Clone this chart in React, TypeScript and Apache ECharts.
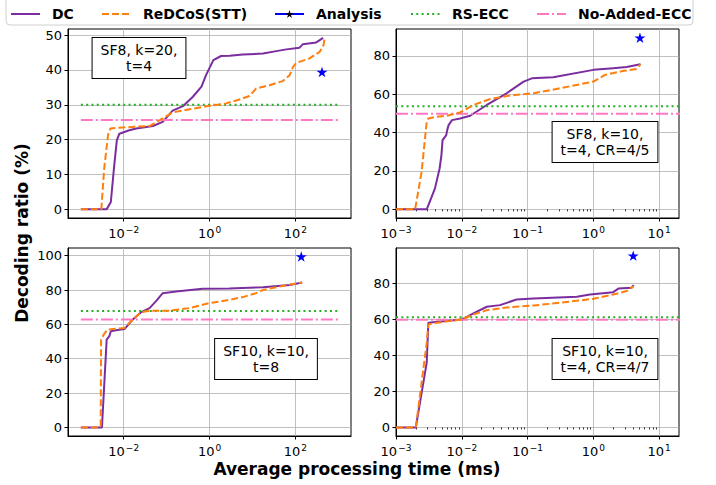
import React, { useEffect, useRef } from 'react';
import * as echarts from 'echarts';

const FONT = 'DejaVu Sans';

// ---------- data ----------
const panelLabels = ['SF8, k=20,\nt=4', 'SF8, k=10,\nt=4, CR=4/5', 'SF10, k=10,\nt=8', 'SF10, k=10,\nt=4, CR=4/7'];

// top-left: SF8, k=20, t=4
const tlDcTime = [0.001, 0.004, 0.005, 0.006, 0.0069, 0.0079, 0.0135, 0.0195, 0.048, 0.081, 0.138, 0.24, 0.41, 0.65, 0.83, 1.23, 1.86, 2.95, 6.0, 17.8, 36, 62, 126, 151, 309, 447];
const tlDcRatio = [0, 0, 2.1, 12.6, 19.8, 21.7, 22.7, 23.2, 23.9, 25.1, 28.3, 29.6, 32.3, 35.2, 38.5, 42.8, 44.0, 44.1, 44.4, 44.7, 45.4, 45.9, 46.4, 47.4, 47.9, 49.2];
const tlReTime = [0.001, 0.003, 0.0035, 0.0043, 0.0049, 0.0095, 0.04, 0.081, 0.138, 0.34, 1.0, 2.45, 5.0, 8.5, 12.3, 25, 51, 74, 89, 105, 214, 372, 457, 480];
const tlReRatio = [0, 0, 11.7, 21.3, 23.2, 23.5, 23.9, 26.1, 27.8, 28.7, 29.7, 30.4, 31.5, 32.5, 34.7, 35.6, 36.8, 38.5, 40.9, 42.0, 43.3, 45.2, 47.1, 48.9];

// top-right: SF8, k=10, t=4, CR=4/5
const trDcTime = [0.001, 0.00293, 0.0039, 0.0046, 0.0049, 0.0051, 0.0058, 0.006, 0.0063, 0.0071, 0.0094, 0.0134, 0.024, 0.048, 0.087, 0.116, 0.245, 1.0, 2.0, 3.2, 5.2];
const trDcRatio = [0, 0, 10.8, 21.3, 28.2, 36.1, 38.7, 41.3, 43.9, 46.5, 47.4, 48.8, 54.4, 60.5, 66.6, 68.3, 68.8, 72.7, 73.6, 74.2, 75.6];
const trReTime = [0.001, 0.00195, 0.00245, 0.00293, 0.0031, 0.0042, 0.0059, 0.0094, 0.015, 0.027, 0.054, 0.123, 0.31, 1.0, 1.5, 2.9, 4.5, 5.2];
const trReRatio = [0, 0, 19.5, 45.7, 47.4, 48.3, 48.8, 50.5, 54.4, 57.5, 59.3, 60.5, 63.1, 66.6, 70.1, 72.2, 73.2, 75.6];

// bottom-left: SF10, k=10, t=8
const blDcTime = [0.001, 0.0031, 0.004, 0.0046, 0.005, 0.0066, 0.0104, 0.016, 0.025, 0.04, 0.056, 0.081, 0.166, 0.69, 2.9, 17.7, 74, 145];
const blDcRatio = [0, 0, 51.2, 53.1, 56.0, 56.6, 57.3, 62.7, 67.0, 69.5, 73.4, 78.2, 79.2, 80.7, 80.9, 81.7, 83, 84.4];
const blReTime = [0.001, 0.0027, 0.0029, 0.00296, 0.0034, 0.0042, 0.0104, 0.016, 0.025, 0.04, 0.117, 0.34, 1, 2.9, 6, 12.3, 17.8, 51, 145];
const blReRatio = [0, 0, 1, 51, 54, 57, 57.9, 62.7, 67, 68, 68, 69.5, 72.4, 74.3, 75.9, 78.2, 80.1, 82.4, 84.4];

// bottom-right: SF10, k=10, t=4, CR=4/7
const brDcTime = [0.001, 0.002, 0.00293, 0.0031, 0.0052, 0.01, 0.015, 0.024, 0.038, 0.068, 0.123, 0.56, 0.89, 2.0, 2.4, 3.8, 4.1];
const brDcRatio = [0, 0, 36, 58.2, 59.1, 60.0, 63.4, 67.1, 68, 71.1, 71.7, 72.6, 73.9, 75.2, 77.2, 77.6, 79.1];
const brReTime = [0.001, 0.002, 0.00293, 0.0031, 0.0042, 0.01, 0.015, 0.024, 0.054, 0.123, 0.31, 1.0, 2.0, 3.2, 4.1];
const brReRatio = [0, 0, 47, 57.3, 58.2, 60, 62.8, 65.2, 66.9, 67.8, 69.3, 71.5, 73.9, 75.8, 78.5];

// per-panel single values
const analysisTime = [420, 5.1, 138, 4.03];
const analysisRatio = [39.4, 89.4, 99.5, 95.5];
const rsEccRatio = [30, 53.7, 67.8, 61.3];
const noAddedRatio = [25.6, 49.8, 62.9, 59.8];
const refLineSpan = [0.001, 1000];

// tick values
const wideXTicks = [1e-2, 1, 1e2];
const narrowXTicks = [1e-3, 1e-2, 1e-1, 1, 10];
const tlYTicks = [0, 10, 20, 30, 40, 50];
const trYTicks = [0, 20, 40, 60, 80];
const blYTicks = [0, 20, 40, 60, 80, 100];
const brYTicks = [0, 20, 40, 60, 80];

const legendNames = ['DC', 'ReDCoS(STT)', 'Analysis', 'RS-ECC', 'No-Added-ECC'];

// ---------- styling / layout ----------
const COLORS = {
  dc: '#7b2d9f',
  re: '#ff7f0e',
  an: '#0000ff',
  rs: '#22b022',
  na: '#ff78c4',
};
const STAR = 'path://M50 0L61.2 34.6L97.6 34.5L68.1 55.9L79.4 90.5L50 69L20.6 90.5L31.9 55.9L2.4 34.5L38.8 34.6Z';

const zip = (xs: number[], ys: number[]) => xs.map((x, i) => [x, ys[i]]);

const minorDecades = [1e-3, 1e-2, 1e-1, 1];
const minorTicks: number[] = [];
minorDecades.forEach((d) => {
  for (let m = 2; m <= 9; m++) minorTicks.push(parseFloat((m * d).toPrecision(6)));
});

const panels = [
  { grid: { left: 68, top: 29, width: 283, height: 189 }, xMin: Math.pow(10, -3.3), xMax: Math.pow(10, 3.3), yMin: -2.5, yMax: 51.75, xTicks: wideXTicks, yTicks: tlYTicks, minor: false, dc: zip(tlDcTime, tlDcRatio), re: zip(tlReTime, tlReRatio), box: [139, 58] },
  { grid: { left: 396, top: 29, width: 283, height: 189 }, xMin: 1e-3, xMax: 20, yMin: -4.5, yMax: 94, xTicks: narrowXTicks, yTicks: trYTicks, minor: true, dc: zip(trDcTime, trDcRatio), re: zip(trReTime, trReRatio), box: [605, 142] },
  { grid: { left: 68, top: 248, width: 283, height: 188 }, xMin: Math.pow(10, -3.3), xMax: Math.pow(10, 3.3), yMin: -5, yMax: 104.5, xTicks: wideXTicks, yTicks: blYTicks, minor: false, dc: zip(blDcTime, blDcRatio), re: zip(blReTime, blReRatio), box: [266, 359] },
  { grid: { left: 396, top: 248, width: 283, height: 188 }, xMin: 1e-3, xMax: 20, yMin: -4.75, yMax: 99.75, xTicks: narrowXTicks, yTicks: brYTicks, minor: true, dc: zip(brDcTime, brDcRatio), re: zip(brReTime, brReRatio), box: [605, 359] },
];

const supLabel = (v: number) => {
  const l = Math.log10(v);
  const e = Math.round(l);
  if (Math.abs(l - e) > 1e-6) return '';
  return `{b|10}{s|${e < 0 ? '\u2212' + -e : e}}`;
};

const gridLine = { color: '#b0b0b0', width: 0.8 };

function buildOption() {
  const grid: any[] = [];
  const xAxis: any[] = [];
  const yAxis: any[] = [];
  const series: any[] = [];
  panels.forEach((p, i) => {
    grid.push({ ...p.grid, show: true, borderColor: '#000', borderWidth: 1, backgroundColor: 'transparent', containLabel: false });
    xAxis.push({
      type: 'log', logBase: 10, gridIndex: i, min: p.xMin, max: p.xMax,
      axisLine: { show: true, onZero: false, lineStyle: { color: '#000', width: 1 } },
      axisTick: { show: true, length: 3.5, customValues: p.xTicks, lineStyle: { color: '#000', width: 1 } },
      axisLabel: {
        customValues: p.xTicks, formatter: supLabel, margin: 7, color: '#000', fontFamily: FONT, fontSize: 13,
        rich: {
          b: { fontFamily: FONT, fontSize: 13, color: '#000', verticalAlign: 'bottom' },
          s: { fontFamily: FONT, fontSize: 9, color: '#000', verticalAlign: 'top', padding: [0, 0, 6, 1] },
        },
      },
      splitLine: { show: true, lineStyle: gridLine },
    });
    yAxis.push({
      type: 'value', gridIndex: i, min: p.yMin, max: p.yMax,
      axisLine: { show: true, onZero: false, lineStyle: { color: '#000', width: 1 } },
      axisTick: { show: true, length: 3.5, customValues: p.yTicks, lineStyle: { color: '#000', width: 1 } },
      axisLabel: { customValues: p.yTicks, margin: 6, color: '#000', fontFamily: FONT, fontSize: 13 },
      splitLine: { show: true, lineStyle: gridLine },
    });
    const ax = { xAxisIndex: i, yAxisIndex: i };
    series.push({ type: 'line', name: 'DC', ...ax, data: p.dc, symbol: 'none', color: COLORS.dc, lineStyle: { color: COLORS.dc, width: 2 }, z: 3 });
    series.push({ type: 'line', name: 'ReDCoS(STT)', ...ax, data: p.re, symbol: 'none', color: COLORS.re, lineStyle: { color: COLORS.re, width: 2, type: [7, 3] }, z: 4 });
    series.push({ type: 'line', name: 'Analysis', ...ax, data: [[analysisTime[i], analysisRatio[i]]], symbol: STAR, symbolSize: 11, symbolKeepAspect: true, color: COLORS.an, itemStyle: { color: COLORS.an }, lineStyle: { color: COLORS.an, width: 2 }, z: 5 });
    series.push({ type: 'line', name: 'RS-ECC', ...ax, data: refLineSpan.map((x) => [x, rsEccRatio[i]]), symbol: 'none', color: COLORS.rs, lineStyle: { color: COLORS.rs, width: 2, type: [2, 3.3] }, z: 3 });
    series.push({ type: 'line', name: 'No-Added-ECC', ...ax, data: refLineSpan.map((x) => [x, noAddedRatio[i]]), symbol: 'none', color: COLORS.na, lineStyle: { color: COLORS.na, width: 2, type: [12, 3, 2, 3] }, z: 3 });
  });
  // minor ticks for the narrow-range panels
  panels.forEach((p, i) => {
    if (!p.minor) return;
    xAxis.push({
      type: 'log', logBase: 10, gridIndex: i, min: p.xMin, max: p.xMax, position: 'bottom',
      axisLine: { show: false },
      axisTick: { show: true, length: 2, customValues: minorTicks, lineStyle: { color: '#000', width: 0.8 } },
      axisLabel: { show: false },
      splitLine: { show: false },
    });
  });

  const legendLeft = [10, 101, 274, 410, 536];
  const legend = legendNames.map((name, k) => ({
    data: [name], left: legendLeft[k], top: 7, padding: 0, itemWidth: 29, itemHeight: 10, selectedMode: false,
    textStyle: { fontFamily: FONT, fontSize: 14, fontWeight: 'bold', color: '#000', padding: [0, 0, 0, 7] },
    itemStyle: name === 'Analysis' ? undefined : { opacity: 0 },
  }));

  const graphic: any[] = [
    { type: 'rect', shape: { x: 6, y: -5, width: 687, height: 30, r: 4 }, style: { fill: '#fff', stroke: '#d0d0d0', lineWidth: 1 }, z: -10 },
    { type: 'text', x: 22, y: 233, rotation: Math.PI / 2, style: { text: 'Decoding ratio (%)', font: `bold 17px "${FONT}"`, fill: '#000', align: 'center', verticalAlign: 'middle' } },
    { type: 'text', x: 357, y: 469, style: { text: 'Average processing time (ms)', font: `bold 17px "${FONT}"`, fill: '#000', align: 'center', verticalAlign: 'middle' } },
  ];
  panels.forEach((p, i) => {
    graphic.push({
      type: 'text', x: p.box[0], y: p.box[1], z: 50,
      style: {
        text: panelLabels[i], font: `14px "${FONT}"`, fill: '#000', align: 'center', verticalAlign: 'middle',
        lineHeight: 16, backgroundColor: '#fff', borderColor: '#000', borderWidth: 1, padding: [4, 8],
      },
    });
  });

  return { animation: false, backgroundColor: '#fff', grid, xAxis, yAxis, series, legend, graphic };
}

export default function App() {
  const ref = useRef<HTMLDivElement>(null);
  useEffect(() => {
    if (!ref.current) return;
    const chart = echarts.init(ref.current, undefined, { renderer: 'svg' });
    chart.setOption(buildOption() as any);
    return () => chart.dispose();
  }, []);
  return <div ref={ref} style={{ position: 'absolute', left: 0, top: 0, width: 716, height: 485 }} />;
}
